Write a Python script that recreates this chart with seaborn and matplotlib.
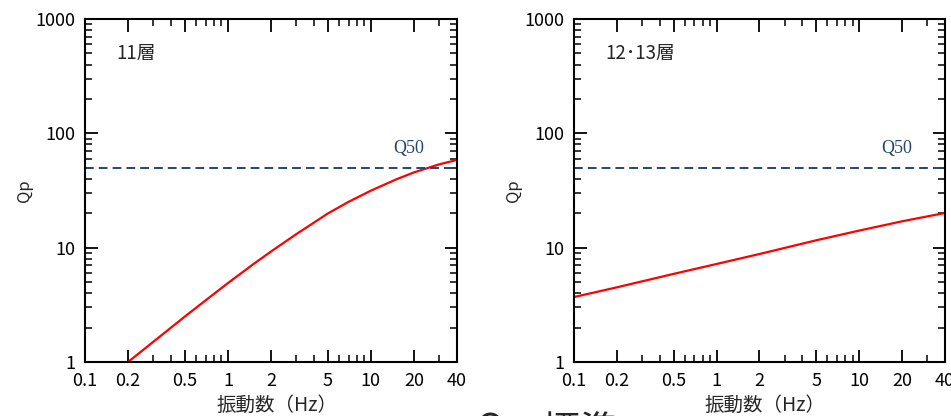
import numpy as np
import pandas as pd
import matplotlib
matplotlib.use("Agg")
import matplotlib.pyplot as plt
import seaborn as sns
from matplotlib.ticker import FixedLocator, NullFormatter, LogLocator

# --- data ---
freq_11 = [0.2, 0.3, 0.5, 0.7, 1, 1.5, 2, 3, 5, 7, 10, 15, 20, 30, 40]
qp_11 = [1.0, 1.5, 2.5, 3.47, 4.9, 7.15, 9.25, 13.1, 19.9, 25.2, 31.5, 39.5, 45.5, 53.5, 58.5]

freq_1213 = [0.1, 0.2, 0.5, 1, 2, 5, 10, 20, 40]
qp_1213 = [3.7, 4.5, 5.9, 7.2, 8.8, 11.6, 14.1, 17.0, 20.1]

q_ref = 50
panel_titles = ["11層", "12･13層"]
xtick_vals = [0.1, 0.2, 0.5, 1, 2, 5, 10, 20, 40]
xtick_labels = ["0.1", "0.2", "0.5", "1", "2", "5", "10", "20", "40"]
xtick_minor = [0.3, 0.4, 0.6, 0.7, 0.8, 0.9, 3, 4, 6, 7, 8, 9, 30]
ytick_vals = [1, 10, 100, 1000]
ytick_labels = ["1", "10", "100", "1000"]

sns.set_style("ticks")
plt.rcParams['font.family'] = ['Noto Sans CJK JP', 'DejaVu Sans']

fig = plt.figure(figsize=(9.51, 4.16), dpi=100)
ax1 = fig.add_axes([0.0894, 0.1298, 0.391, 0.8245])
ax2 = fig.add_axes([0.6036, 0.1298, 0.390, 0.8245])

navy = "#234675"
data_sets = [(freq_11, qp_11), (freq_1213, qp_1213)]

for ax, (fx, qy), title in zip([ax1, ax2], data_sets, panel_titles):
    df = pd.DataFrame({"f": fx, "q": qy})
    sns.lineplot(data=df, x="f", y="q", ax=ax, color="red", linewidth=1.6)
    ax.axhline(q_ref, color=navy, linewidth=1.4, linestyle=(0, (4.5, 2.6)))
    ax.set_xscale("log")
    ax.set_yscale("log")
    ax.set_xlim(0.1, 40)
    ax.set_ylim(1, 1000)

    # ticks: majors labelled, minors in between, all inward on 4 sides
    ax.xaxis.set_major_locator(FixedLocator(xtick_vals))
    ax.set_xticklabels(xtick_labels)
    ax.xaxis.set_minor_locator(FixedLocator(xtick_minor))
    ax.xaxis.set_minor_formatter(NullFormatter())
    ax.yaxis.set_major_locator(FixedLocator(ytick_vals))
    ax.set_yticklabels(ytick_labels)
    ax.yaxis.set_minor_locator(LogLocator(base=10, subs=np.arange(2, 10)))
    ax.yaxis.set_minor_formatter(NullFormatter())
    ax.tick_params(which="major", direction="in", length=9, width=1.3,
                   top=True, right=True, labelsize=13, colors="black")
    ax.tick_params(which="minor", direction="in", length=5, width=1.3,
                   top=True, right=True)
    ax.tick_params(axis="x", which="major", pad=7)
    ax.tick_params(axis="y", which="major", pad=7)
    for sp in ax.spines.values():
        sp.set_linewidth(1.5)
        sp.set_color("black")

    ax.set_xlabel("振動数（Hz）", fontsize=14, labelpad=4)
    ax.xaxis.label.set_x(0.515)
    ax.set_ylabel("Qp", fontsize=12, labelpad=2)
    ax.text(0.085, 0.9, title, transform=ax.transAxes, fontsize=13.5,
            ha="left", va="center")
    ax.text(0.87, 73, "Q50", transform=ax.get_yaxis_transform(), fontsize=13,
            color=navy, ha="center", va="center",
            family=["Liberation Serif", "DejaVu Serif"])

# fragment of a larger caption cut off at the bottom edge
fig.text(0.500, -0.062, "Q", fontsize=28, ha="left", va="baseline")
fig.text(0.569, -0.0673, "標準", fontsize=28, ha="left", va="baseline")

fig.savefig("out.png", dpi=100)
